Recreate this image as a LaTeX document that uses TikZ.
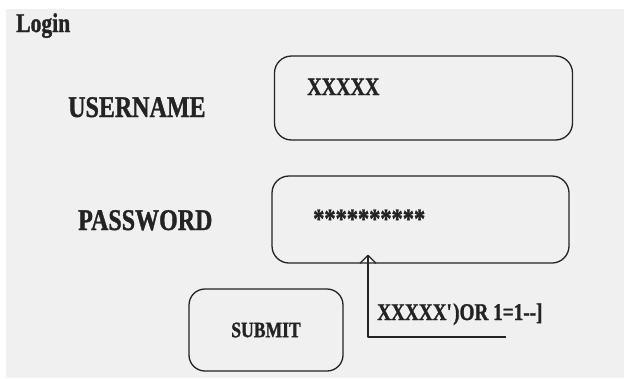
\documentclass[tikz,border=0pt]{standalone}
\usepackage{fontspec}
\setmainfont{Liberation Serif}[FakeStretch=0.8, BoldFeatures={FakeBold=1.2}]
\usepackage{xcolor}
\usepackage{tikz}
\usetikzlibrary{positioning,arrows.meta}
\definecolor{formgray}{RGB}{240,240,240}
\definecolor{inkgray}{RGB}{35,35,35}

\begin{document}
\begin{tikzpicture}[
  x=1pt, y=-1pt,
  every node/.style={font=\bfseries, text=inkgray, inner sep=0pt},
  lbltext/.style={font=\fontsize{30}{34}\selectfont\bfseries},
  valtext/.style={font=\fontsize{25}{30}\selectfont\bfseries},
  fieldbox/.style={draw=inkgray, line width=1.3pt, rounded corners=17pt, minimum width=298pt, minimum height=84pt},
  btnbox/.style={draw=inkgray, line width=1.3pt, rounded corners=16pt, minimum width=154pt, minimum height=82pt, font=\fontsize{22}{26}\selectfont\bfseries}
]
\useasboundingbox (0,0) rectangle (624,378);
\fill[formgray] (6,9) rectangle (624,378);

\node[anchor=base west, font=\fontsize{27}{30}\selectfont\bfseries] (title) at (16,32) {Login};

\node[lbltext, anchor=base west] (userlbl) at (68,117) {USERNAME};
\node[fieldbox] (userbox) at (423.5,98) {};
\node[valtext, anchor=base west] (userval) at (307,95) {XXXXX};

\node[lbltext, anchor=base west] (passlbl) at (78,230) {PASSWORD};
\node[fieldbox, minimum width=297pt, minimum height=87pt] (passbox) at (420.5,219.5) {};
\node[anchor=base west, font=\fontsize{28}{30}\selectfont\bfseries] (passval) at (313,228) {**********};

\node[btnbox] (submit) at (266,330) {SUBMIT};

\node[anchor=base west, font=\fontsize{24}{28}\selectfont\bfseries] (inject) at (377,320) {XXXXX\textquotesingle)OR 1=1-{}-]};
\coordinate (hook) at (506,337);

\draw[draw=inkgray, line width=1.3pt, line join=round, -{Straight Barb[length=8pt, width=16pt, line join=round]}]
  (hook) -| ([xshift=-52.5pt, yshift=9pt]passbox.south);
\end{tikzpicture}
\end{document}
